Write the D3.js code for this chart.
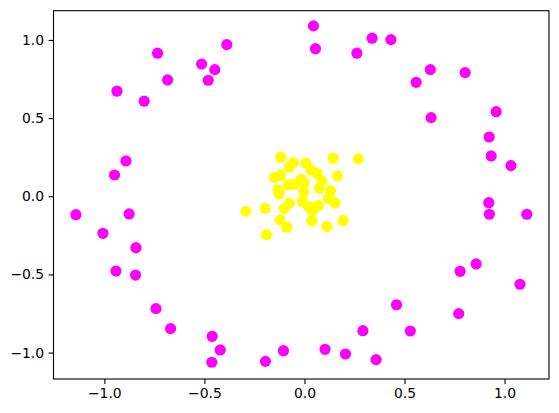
<!DOCTYPE html>
<html lang="en">
<head>
  <meta charset="UTF-8" />
  <title>circles</title>
  <style>
    body { margin: 0; background: #fff; }
    text { font-family: "DejaVu Sans", sans-serif; }
  </style>
</head>
<body>
  <div id="chart"></div>
  <script src="https://d3js.org/d3.v7.min.js"></script>
  <script>
    // outer ring (class 0)
    var outerX = [-0.388, -0.734, -0.514, -0.448, -0.684, -0.481, -0.937, -0.801,
      0.045, 0.055, 0.262, 0.338, 0.432, 0.558, 0.629, 0.633, 0.803, 0.958,
      -0.892, -0.949, -1.142, -0.876, -1.007, -0.842, -0.942, -0.844,
      0.923, 0.933, 1.032, 0.921, 0.924, 1.111, 0.858, 0.778, 1.077,
      0.771, 0.460, 0.292, 0.529, 0.103, 0.205, 0.358,
      -0.742, -0.669, -0.461, -0.421, -0.463, -0.195, -0.105]
    var outerY = [0.970, 0.915, 0.846, 0.810, 0.744, 0.742, 0.672, 0.608,
      1.090, 0.944, 0.915, 1.011, 1.002, 0.729, 0.810, 0.503, 0.791, 0.541,
      0.226, 0.136, -0.118, -0.113, -0.237, -0.329, -0.478, -0.504,
      0.379, 0.258, 0.196, -0.041, -0.115, -0.115, -0.433, -0.480, -0.563,
      -0.751, -0.694, -0.860, -0.862, -0.979, -1.009, -1.045,
      -0.719, -0.847, -0.896, -0.983, -1.062, -1.056, -0.988]

    // inner cluster (class 1)
    var innerX = [-0.118, -0.055, -0.076, 0.008, 0.033, 0.062, 0.087, 0.075, 0.143, 0.270,
      0.165, -0.150, -0.120, -0.083, -0.051, -0.016, -0.002, -0.133, -0.126, -0.003,
      0.130, 0.120, 0.153, -0.010, 0.020, 0.040, 0.070, -0.101, -0.076, -0.293,
      -0.196, -0.121, -0.088, 0.037, 0.112, 0.193, -0.190]
    var innerY = [0.250, 0.215, 0.186, 0.211, 0.168, 0.147, 0.100, 0.051, 0.243, 0.239,
      0.130, 0.119, 0.134, 0.072, 0.077, 0.109, 0.087, 0.040, 0.015, 0.029,
      0.034, -0.015, -0.041, -0.035, -0.066, -0.092, -0.060, -0.077, -0.045, -0.096,
      -0.077, -0.152, -0.198, -0.158, -0.194, -0.156, -0.246]

    var xTicks = [-1.0, -0.5, 0.0, 0.5, 1.0]
    var yTicks = [-1.0, -0.5, 0.0, 0.5, 1.0]

    var classColors = ["#ff00ff", "#ffff00"]

    var points = []
    outerX.forEach(function (v, i) { points.push({ x: v, y: outerY[i], c: 0 }) })
    innerX.forEach(function (v, i) { points.push({ x: v, y: innerY[i], c: 1 }) })

    // note: "top" is taken by window.top, so use other names
    var marginLeft = 53.5, marginTop = 10.7
    var width = 495.5, height = 368.3

    var x = d3.scaleLinear()
      .domain([-1.254, 1.222])
      .range([0, width])

    var y = d3.scaleLinear()
      .domain([-1.169, 1.187])
      .range([height, 0])

    var svg = d3.select("#chart")
      .append("svg")
      .attr("width", 559)
      .attr("height", 413)

    var g = svg.append("g")
      .attr("transform", "translate(" + marginLeft + "," + marginTop + ")")

    g.append("g")
      .selectAll("circle")
      .data(points)
      .enter().append("circle")
      .attr("cx", function (d) { return x(d.x) })
      .attr("cy", function (d) { return y(d.y) })
      .attr("r", 5.6)
      .style("fill", function (d) { return classColors[d.c] })

    var fmt = d3.format(".1f")

    var xAxis = g.append("g")
      .attr("transform", "translate(0," + height + ")")
      .call(d3.axisBottom(x).tickValues(xTicks).tickFormat(fmt).tickSize(4.9).tickPadding(4.5))

    var yAxis = g.append("g")
      .call(d3.axisLeft(y).tickValues(yTicks).tickFormat(fmt).tickSize(4.9).tickPadding(4.5))

    svg.selectAll(".domain").remove()
    svg.selectAll(".tick line").attr("stroke", "#000").attr("stroke-width", 1.1)
    svg.selectAll(".tick text")
      .attr("fill", "#000")
      .style("font-size", "13.9px")
      .style("font-family", "'DejaVu Sans', sans-serif")

    // frame
    g.append("rect")
      .attr("width", width)
      .attr("height", height)
      .attr("fill", "none")
      .attr("stroke", "#000")
      .attr("stroke-width", 1.1)
  </script>
</body>
</html>
